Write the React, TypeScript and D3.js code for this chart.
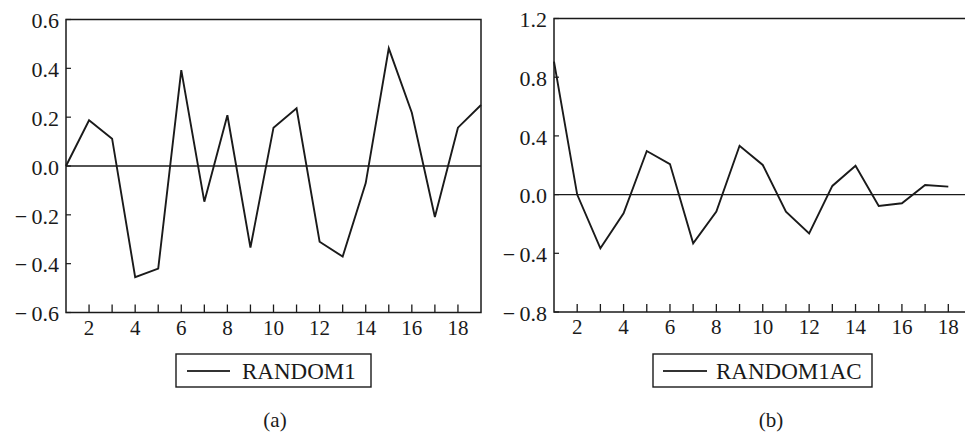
import React from "react";
import * as d3 from "d3";

const lagsA = [1,2,3,4,5,6,7,8,9,10,11,12,13,14,15,16,17,18,19];
const random1 = [0.0,0.187,0.112,-0.455,-0.42,0.393,-0.146,0.208,-0.334,0.157,0.236,-0.31,-0.371,-0.07,0.482,0.218,-0.209,0.157,0.25];
const lagsB = [1,2,3,4,5,6,7,8,9,10,11,12,13,14,15,16,17,18];
const random1ac = [0.906,0.0,-0.366,-0.128,0.297,0.208,-0.332,-0.116,0.333,0.202,-0.116,-0.264,0.059,0.197,-0.078,-0.059,0.065,0.054];
const yTicksA = [-0.6,-0.4,-0.2,0.0,0.2,0.4,0.6];
const yTicksB = [-0.8,-0.4,0.0,0.4,0.8,1.2];
const xTicks = d3.range(2, 19);
const xLabels = [2,4,6,8,10,12,14,16,18];

const FONT = "'Liberation Serif', 'DejaVu Serif', serif";
const INK = "#1a1a1a";

type PanelProps = {
  xs: number[]; ys: number[]; yTicks: number[]; yDomain: [number, number];
  left: number; right: number; top: number; bottom: number;
  legendLabel: string; legendBox: [number, number]; lineSample: [number, number]; textStart: number;
  caption: string; captionX: number;
};

function fmt(v: number) {
  const s = Math.abs(v).toFixed(1);
  return v < 0 ? "\u2212\u2009" + s : s;
}

function Panel(p: PanelProps) {
  const x = d3.scaleLinear().domain([1, 19]).range([p.left, p.right]);
  const y = d3.scaleLinear().domain(p.yDomain).range([p.bottom, p.top]);
  const line = d3.line<number>().x((_, i) => x(p.xs[i])).y((d) => y(d));
  return (
    <g>
      <rect x={p.left} y={p.top} width={p.right - p.left} height={p.bottom - p.top} fill="none" stroke={INK} strokeWidth={1.5} />
      <line x1={p.left} x2={p.right} y1={y(0)} y2={y(0)} stroke={INK} strokeWidth={1.4} />
      {p.yTicks.map((t) => (
        <g key={"y" + t}>
          <line x1={p.left} x2={p.left + 5} y1={y(t)} y2={y(t)} stroke={INK} strokeWidth={1.2} />
          <text x={p.left - 7} y={y(t)} dy="0.4em" textAnchor="end" fontFamily={FONT} fontSize={22} fill={INK}>
            {fmt(t)}
          </text>
        </g>
      ))}
      {xTicks.map((t) => (
        <line key={"x" + t} x1={x(t)} x2={x(t)} y1={p.bottom} y2={p.bottom - 8} stroke={INK} strokeWidth={1.3} />
      ))}
      {xLabels.map((t) => (
        <text key={"xl" + t} x={x(t)} y={p.bottom + 22} textAnchor="middle" fontFamily={FONT} fontSize={21} fill={INK}>
          {t}
        </text>
      ))}
      <path d={line(p.ys) || ""} fill="none" stroke={INK} strokeWidth={1.9} strokeLinejoin="miter" />
      <rect x={p.legendBox[0]} y={354} width={p.legendBox[1] - p.legendBox[0]} height={33} fill="none" stroke={INK} strokeWidth={1.4} />
      <line x1={p.lineSample[0]} x2={p.lineSample[1]} y1={371} y2={371} stroke="#333" strokeWidth={1.8} />
      <text x={p.textStart} y={379} fontFamily={FONT} fontSize={23} fill={INK}>{p.legendLabel}</text>
      <text x={p.captionX} y={427} textAnchor="middle" fontFamily={FONT} fontSize={21} fill={INK}>{p.caption}</text>
    </g>
  );
}

export default function App() {
  return (
    <svg width={965} height={432} style={{ display: "block", position: "absolute", left: 0, top: 0, background: "#fff" }}>
      <rect x={0} y={0} width={965} height={432} fill="#fff" />
      <Panel xs={lagsA} ys={random1} yTicks={yTicksA} yDomain={[-0.6, 0.6]}
        left={66} right={481} top={19.5} bottom={312.5}
        legendLabel="RANDOM1" legendBox={[176, 371]} lineSample={[187, 230]} textStart={242}
        caption="(a)" captionX={275} />
      <Panel xs={lagsB} ys={random1ac} yTicks={yTicksB} yDomain={[-0.8, 1.2]}
        left={554} right={971.5} top={18.5} bottom={312}
        legendLabel="RANDOM1AC" legendBox={[653, 872]} lineSample={[663, 707]} textStart={716}
        caption="(b)" captionX={771} />
    </svg>
  );
}
